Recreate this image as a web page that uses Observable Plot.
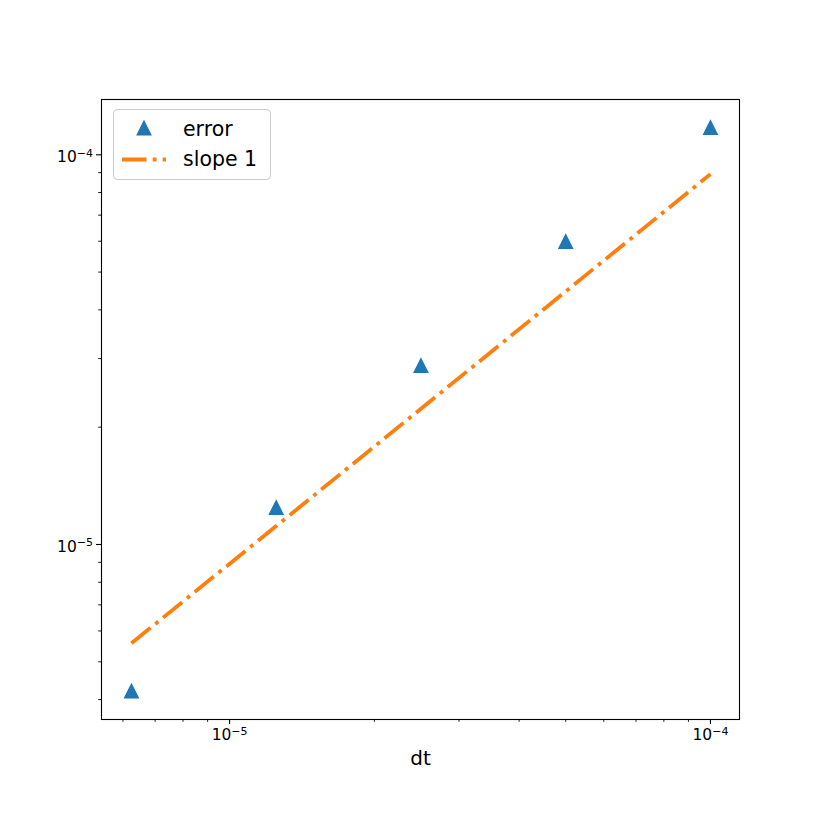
<!DOCTYPE html>
<html>
<head>
<meta charset="utf-8">
<script src="https://cdn.jsdelivr.net/npm/d3@7"></script>
<script src="https://cdn.jsdelivr.net/npm/@observablehq/plot@0.6"></script>
<style>
  html, body { margin: 0; padding: 0; background: white; }
  #chart { width: 822px; height: 822px; }
</style>
</head>
<body>
<div id="chart"></div>
<script>
// ---- data ----
const dt = [6.25e-6, 1.25e-5, 2.5e-5, 5e-5, 1e-4];
const errorValues = [4.21e-6, 1.245e-5, 2.88e-5, 5.99e-5, 1.175e-4];
const slopeValues = [5.58e-6, 1.115e-5, 2.23e-5, 4.46e-5, 8.92e-5];
const seriesNames = ["error", "slope 1"];
const xMajorTicks = [1e-5, 1e-4];
const yMajorTicks = [1e-5, 1e-4];
const xMinorTicks = [6e-6, 7e-6, 8e-6, 9e-6, 2e-5, 3e-5, 4e-5, 5e-5, 6e-5, 7e-5, 8e-5, 9e-5];
const yMinorTicks = [4e-6, 5e-6, 6e-6, 7e-6, 8e-6, 9e-6, 2e-5, 3e-5, 4e-5, 5e-5, 6e-5, 7e-5, 8e-5, 9e-5];
const xLabel = "dt";

const blue = "#1f77b4";
const orange = "#ff7f0e";
const dashPattern = "24.5,6.2,3.8,6.2";

const errorData = dt.map((d, i) => ({dt: d, v: errorValues[i]}));
const slopeData = dt.map((d, i) => ({dt: d, v: slopeValues[i]}));

const triangle = {
  draw(context, size) {
    const r = Math.sqrt(size / Math.PI);
    context.moveTo(0, -r);
    context.lineTo(r, r);
    context.lineTo(-r, r);
    context.closePath();
  }
};

const fmt = d => "10\u2212" + Math.round(-Math.log10(d));

const W = 822, H = 822;
const plot = Plot.plot({
  width: W,
  height: H,
  marginLeft: 101,
  marginRight: 83,
  marginTop: 99,
  marginBottom: 103,
  style: {fontFamily: "'DejaVu Sans', sans-serif", fontSize: "15.5px", background: "white", color: "black", overflow: "visible"},
  x: {type: "log", domain: [Math.pow(10, -5.2664), Math.pow(10, -3.9396)]},
  y: {type: "log", domain: [Math.pow(10, -5.4491), Math.pow(10, -3.8581)]},
  marks: [
    Plot.axisX(xMajorTicks, {tickSize: 5, tickPadding: 3.5, tickFormat: fmt, label: null, strokeWidth: 1.1, fontSize: 15.5}),
    Plot.axisX(xMinorTicks, {tickSize: 2.8, tickFormat: null, label: null, strokeWidth: 0.9, text: null}),
    Plot.axisY(yMajorTicks, {tickSize: 5, tickPadding: 3.5, tickFormat: fmt, label: null, strokeWidth: 1.1, fontSize: 15.5}),
    Plot.axisY(yMinorTicks, {tickSize: 2.8, tickFormat: null, label: null, strokeWidth: 0.9, text: null}),
    Plot.dot(errorData, {x: "dt", y: "v", symbol: triangle, r: 7, fill: blue, stroke: blue, strokeWidth: 1.1}),
    Plot.line(slopeData, {x: "dt", y: "v", stroke: orange, strokeWidth: 3.8, strokeDasharray: dashPattern, strokeLinecap: "butt", strokeLinejoin: "miter"}),
    Plot.frame({stroke: "black", strokeWidth: 1.1}),
    Plot.text([xLabel], {frameAnchor: "bottom", dy: 39, fontSize: 20, lineAnchor: "middle", fill: "black"})
  ]
});
document.getElementById("chart").appendChild(plot);

// superscript exponents in tick labels
const svg = d3.select(plot);
svg.selectAll("g[aria-label$='tick label']").style("font-size", "15.5px");
svg.selectAll("g[aria-label$='tick label'] text").each(function() {
  const t = this.textContent;
  const m = /^10(.+)$/.exec(t);
  if (!m) return;
  const el = d3.select(this);
  el.style("font-size", "15.5px");
  el.text("10");
  el.append("tspan").style("font-size", "11px").attr("dy", "-5.5").text(m[1]);
});
svg.selectAll("g[aria-label='y-axis tick label'] text").attr("transform", function() {
  const old = this.getAttribute("transform") || "";
  return old + " translate(0,2.5)";
});
svg.selectAll("g[aria-label='x-axis tick label'] text").attr("transform", function() {
  const old = this.getAttribute("transform") || "";
  return old + " translate(0,1)";
});

// legend
const lg = svg.append("g").attr("class", "legend").attr("text-anchor", "start");
lg.append("rect")
  .attr("x", 113.5).attr("y", 109.5).attr("width", 157).attr("height", 70)
  .attr("rx", 4).attr("fill", "white").attr("fill-opacity", 0.8)
  .attr("stroke", "#cccccc").attr("stroke-width", 1);
lg.append("path")
  .attr("d", "M144,121 L151,135 L137,135 Z")
  .attr("fill", blue).attr("stroke", blue).attr("stroke-width", 1.1);
lg.append("text").attr("x", 183).attr("y", 135.5).attr("text-anchor", "start")
  .style("font-size", "20.5px").attr("fill", "black").text(seriesNames[0]);
lg.append("line")
  .attr("x1", 122).attr("x2", 166).attr("y1", 159.5).attr("y2", 159.5)
  .attr("stroke", orange).attr("stroke-width", 3.8)
  .attr("stroke-dasharray", dashPattern);
lg.append("text").attr("x", 183).attr("y", 166).attr("text-anchor", "start")
  .style("font-size", "20.5px").attr("fill", "black").text(seriesNames[1]);
</script>
</body>
</html>
